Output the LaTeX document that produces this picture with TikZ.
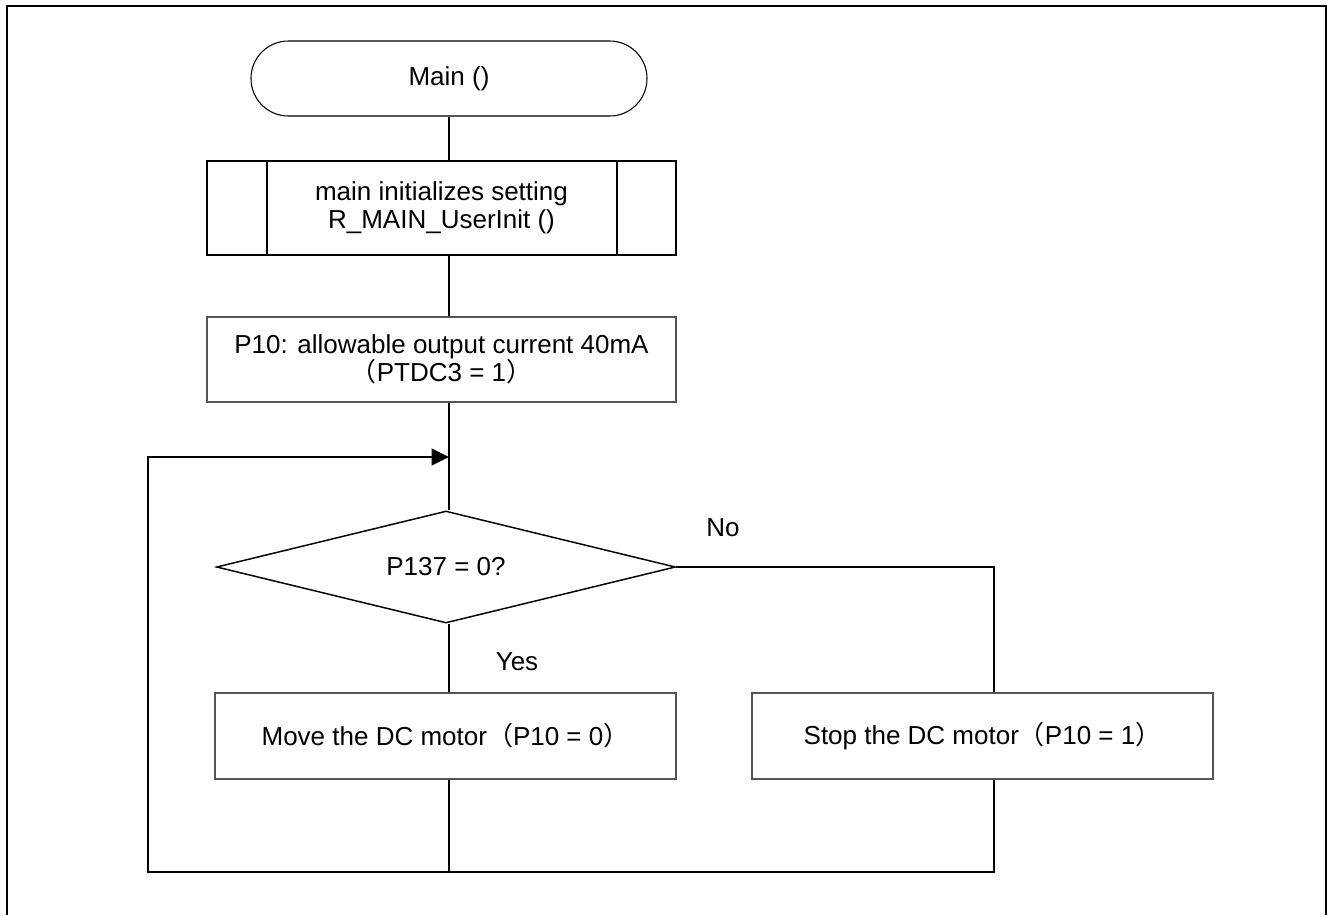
\documentclass[tikz,border=0pt]{standalone}
\usepackage{fontspec}
\setmainfont{Liberation Sans}
\newfontfamily\cjkfont{Noto Sans CJK JP}
\newcommand\flp{{\cjkfont （}}
\newcommand\frp{{\cjkfont ）}}
\usetikzlibrary{shapes.geometric,arrows.meta}
\definecolor{boxgray}{HTML}{555555}
\begin{document}
\begin{tikzpicture}[x=0.75pt,y=-0.75pt,
  every node/.style={font=\fontsize{19.5}{21}\selectfont, inner sep=0pt, align=center},
  term/.style={draw=black, line width=0.8pt, rounded corners=28pt, minimum width=297pt, minimum height=56.25pt},
  subbox/.style={draw=black, line width=1.3pt, minimum width=351.75pt, minimum height=70.5pt},
  procbox/.style={draw=boxgray, line width=0.8pt, minimum width=345.75pt, minimum height=64.5pt},
  decbox/.style={draw=black, line width=1.1pt, shape=diamond, minimum width=344.25pt, minimum height=84pt},
  conn/.style={draw=black, line width=1.5pt},
  frameline/.style={draw=black, line width=1.6pt}
]
\useasboundingbox (0,0) rectangle (1328,915);
\draw[frameline] (7,915) -- (7,6) -- (1326,6) -- (1326,915);

\node[term] (term) at (449,78.5) {Main ()};
\node[subbox] (sub) at (441.5,208) {main initializes setting\\R\_MAIN\_UserInit ()};
\draw[subbox] ([xshift=45.75pt]sub.north west) -- ([xshift=45.75pt]sub.south west);
\draw[subbox] ([xshift=-45pt]sub.north east) -- ([xshift=-45pt]sub.south east);
\node[procbox, minimum width=351.75pt, minimum height=63.75pt] (p10) at (441.5,359.5) {P10: allowable output current 40mA\\\flp PTDC3 = 1\frp};
\node[decbox] (dec) at (446,567) {};
\node (dectext) at (dec.center) {P137 = 0?};
\node[procbox] (move) at (445.5,736) {Move the DC motor\flp P10 = 0\frp};
\node[procbox] (stop) at (982.5,736) {Stop the DC motor\flp P10 = 1\frp};
\node (no) at (723,528) {No};
\node (yes) at (517,662) {Yes};

\coordinate (turn) at (994,567);
\coordinate (br) at (994,872);
\coordinate (bl) at (148,872);
\coordinate (lt) at (148,457);
\coordinate (entry) at (449,457);

\draw[conn] (term.south) -- (sub.north -| term.south);
\draw[conn] (sub.south -| term.south) -- (p10.north -| term.south);
\draw[conn] (p10.south -| term.south) -- (dec.north -| term.south);
\draw[conn] (dec.south -| term.south) -- (move.north -| term.south);
\draw[conn] (move.south -| term.south) -- (term.south |- bl);
\draw[conn] (dec.east) -- (turn) -- (stop.north -| turn);
\draw[conn, -{Triangle[length=13pt,width=12.5pt]}] (stop.south -| turn) -- (br) -- (bl) -- (lt) -- (entry);
\end{tikzpicture}
\end{document}
